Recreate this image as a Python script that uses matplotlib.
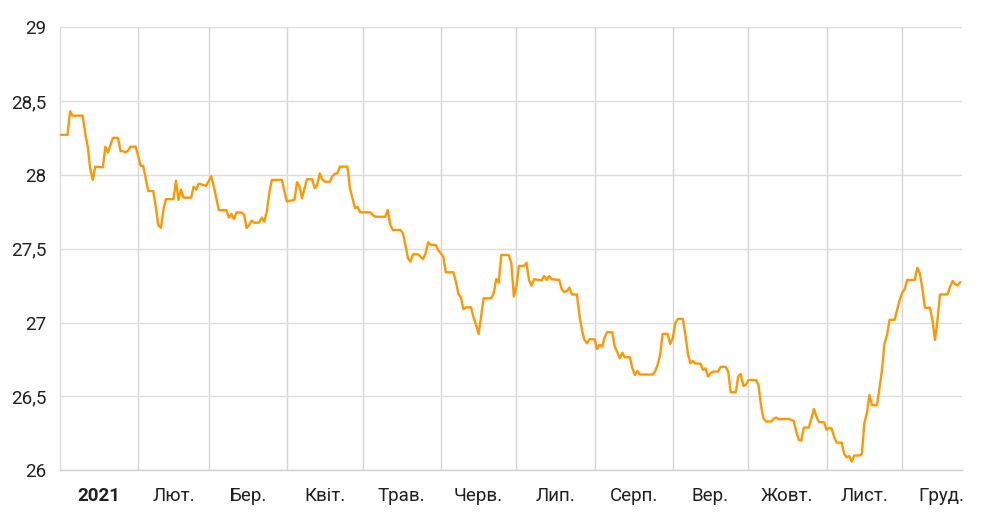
import matplotlib
matplotlib.use('Agg')
import matplotlib.pyplot as plt
import matplotlib.dates as mdates
import datetime as dt

plt.rcParams['font.family'] = ['Roboto', 'DejaVu Sans']

# Day offsets from 1 Jan 2021 and exchange-rate values
day_offsets = [
    0, 3, 4, 5, 9, 10, 11, 12, 13, 14, 17, 18, 19, 20, 21, 23, 24, 25, 26, 27, 28, 30,
    31, 32, 33, 34, 35, 37, 38, 39, 40, 41, 42, 45, 46, 47, 48, 49, 52, 53, 54, 55, 58,
    60, 61, 63, 66, 67, 68, 69, 70, 72, 73,
    74, 75, 76, 77, 79, 80, 81, 82, 83, 84, 88, 89, 90, 93, 94, 95, 96, 97, 98, 100,
    101, 102, 103, 104, 105, 107, 108, 109, 110, 111, 114, 115, 116, 117, 118, 119, 123,
    124, 125, 129, 130, 131, 132, 135, 136, 137, 138, 139, 140, 142, 144, 145, 146,
    147, 149, 150, 152, 153, 156, 157, 158, 159, 160, 161, 163, 164, 165, 166, 167, 168,
    171, 172, 173, 174, 175, 178, 179, 180, 181, 182, 184, 185, 186, 187, 188, 191, 192,
    193, 194, 195, 198, 199, 200, 201, 202, 203, 205, 206, 207, 208, 209, 210, 212, 213,
    214, 215, 216, 217,
    219, 220, 221, 222, 223, 224, 226, 227, 228, 229, 230, 235, 236, 237, 238, 239, 241,
    242, 243, 244, 245, 247, 248, 249, 250, 251, 252, 254, 255, 256, 257, 258, 259, 261,
    262, 264, 265, 266, 268, 269, 270, 271, 272, 273, 276, 277, 278, 279, 280, 282, 283,
    284, 285,
    289, 291, 292, 293, 294, 295, 297, 298, 299, 300, 301, 303, 304, 305, 306, 307, 308,
    310, 311, 312, 313, 314, 315, 317, 318, 319, 320, 321, 322, 324, 325, 326, 327, 328,
    329, 331, 332, 333, 334, 335, 336, 339, 340, 341, 342, 343, 345, 346, 347, 348, 349,
    352, 353, 354, 355, 356, 357,
]
rates = [
    28.27, 28.27, 28.43, 28.40, 28.40, 28.28, 28.19, 28.04, 27.965, 28.055, 28.05, 28.19,
    28.15, 28.20, 28.25, 28.25, 28.16, 28.16, 28.15, 28.165, 28.19, 28.19,
    28.13, 28.06, 28.06, 27.975, 27.89, 27.89, 27.78, 27.66, 27.64, 27.76, 27.835, 27.835,
    27.96, 27.83, 27.90, 27.845, 27.845, 27.92, 27.90, 27.94, 27.925,
    27.99, 27.92, 27.76, 27.76, 27.71, 27.735, 27.70, 27.745, 27.745, 27.73,
    27.64, 27.66, 27.69, 27.676, 27.676, 27.71, 27.683, 27.75, 27.875, 27.965, 27.965,
    27.886, 27.82, 27.83, 27.95, 27.92, 27.84, 27.91, 27.97, 27.97,
    27.91, 27.93, 28.01, 27.97, 27.953, 27.953, 27.99, 28.007, 28.01, 28.055, 28.055,
    27.908, 27.84, 27.773, 27.784, 27.746, 27.746,
    27.728, 27.716, 27.716, 27.762, 27.66, 27.626, 27.626, 27.604, 27.525, 27.435, 27.412,
    27.462, 27.462, 27.428, 27.47, 27.543,
    27.525, 27.525, 27.49, 27.446, 27.34, 27.34, 27.277, 27.193, 27.17, 27.09, 27.103,
    27.103, 27.036, 26.984, 26.923, 27.04, 27.164,
    27.164, 27.198, 27.295, 27.27, 27.457, 27.457, 27.40, 27.175, 27.243, 27.383, 27.383,
    27.405, 27.288, 27.25, 27.293, 27.285, 27.315,
    27.288, 27.315, 27.293, 27.288, 27.225, 27.205, 27.214, 27.236, 27.19, 27.19, 27.05,
    26.95, 26.882, 26.86, 26.887, 26.887, 26.82,
    26.85, 26.837, 26.90, 26.935,
    26.934, 26.837, 26.80, 26.758, 26.796, 26.765, 26.765, 26.69, 26.645, 26.672, 26.648,
    26.648, 26.668, 26.713, 26.78, 26.923, 26.923,
    26.855, 26.894, 26.995, 27.024, 27.024, 26.92, 26.79, 26.725, 26.74, 26.722, 26.722,
    26.679, 26.69, 26.634, 26.657, 26.668, 26.668,
    26.70, 26.70, 26.668, 26.528, 26.528, 26.634, 26.652, 26.571, 26.578, 26.611, 26.611,
    26.578, 26.44, 26.352, 26.33, 26.33, 26.348,
    26.357, 26.346,
    26.348, 26.334, 26.262, 26.206, 26.20, 26.289, 26.289, 26.352, 26.415, 26.363, 26.326,
    26.325, 26.273, 26.289, 26.282, 26.228, 26.187,
    26.187, 26.11, 26.088, 26.097, 26.059, 26.10, 26.10, 26.11, 26.32, 26.386, 26.51,
    26.44, 26.44, 26.555, 26.68, 26.86, 26.916,
    27.018, 27.018, 27.085, 27.153, 27.20, 27.225, 27.288, 27.288, 27.371, 27.333, 27.232,
    27.10, 27.10, 27.018, 26.882, 27.018, 27.19,
    27.19, 27.243, 27.281, 27.259, 27.25, 27.273,
]
month_labels = ['2021', 'Лют.', 'Бер.', 'Квіт.', 'Трав.', 'Черв.', 'Лип.',
                'Серп.', 'Вер.', 'Жовт.', 'Лист.', 'Груд.']
y_ticks = [26, 26.5, 27, 27.5, 28, 28.5, 29]
y_tick_labels = ['26', '26,5', '27', '27,5', '28', '28,5', '29']

start = dt.date(2021, 1, 1)
dates = [start + dt.timedelta(days=d) for d in day_offsets]

fig = plt.figure(figsize=(9.91, 5.2), dpi=100)
ax = fig.add_axes([60 / 991, 1 - 470.3 / 520, (961.7 - 60) / 991, (470.3 - 27) / 520])

hgrid_col = '#dddddd'
vgrid_col = '#d6d6d6'
ax.plot(dates, rates, color='#FF9800', lw=1.7, solid_joinstyle='round', zorder=3)

ax.set_ylim(26, 29)
x0 = mdates.date2num(start)
ax.set_xlim(x0, x0 + 357.6)

# month boundaries (grid) and month midpoints (labels)
month_starts = [dt.date(2021, m, 1) for m in range(1, 13)]
month_ends = month_starts[1:] + [dt.date(2022, 1, 1)]
mids = [mdates.date2num(s) + (mdates.date2num(e) - mdates.date2num(s)) / 2
        for s, e in zip(month_starts, month_ends)]
ax.set_xticks(mids)
ax.set_xticklabels(month_labels)
ax.set_xticks([mdates.date2num(s) for s in month_starts[1:]], minor=True)
ax.tick_params(axis='x', which='both', length=0, pad=12, labelsize=13.5, colors='#212121')
ax.xaxis.grid(True, which='minor', color=vgrid_col, lw=1)
ax.xaxis.grid(False, which='major')
ax.get_xticklabels()[0].set_fontweight('bold')

ax.set_yticks(y_ticks)
ax.set_yticklabels(y_tick_labels)
ax.tick_params(axis='y', length=0, pad=10, labelsize=13.5, colors='#212121')
ax.yaxis.grid(True, color=hgrid_col, lw=1)
ax.set_axisbelow(True)

for s in ['top', 'right']:
    ax.spines[s].set_visible(False)
ax.spines['left'].set_color(hgrid_col)
ax.spines['bottom'].set_color('#d0d0d0')
ax.spines['left'].set_linewidth(1)
ax.spines['bottom'].set_linewidth(1)

fig.savefig('out.png', dpi=100)
